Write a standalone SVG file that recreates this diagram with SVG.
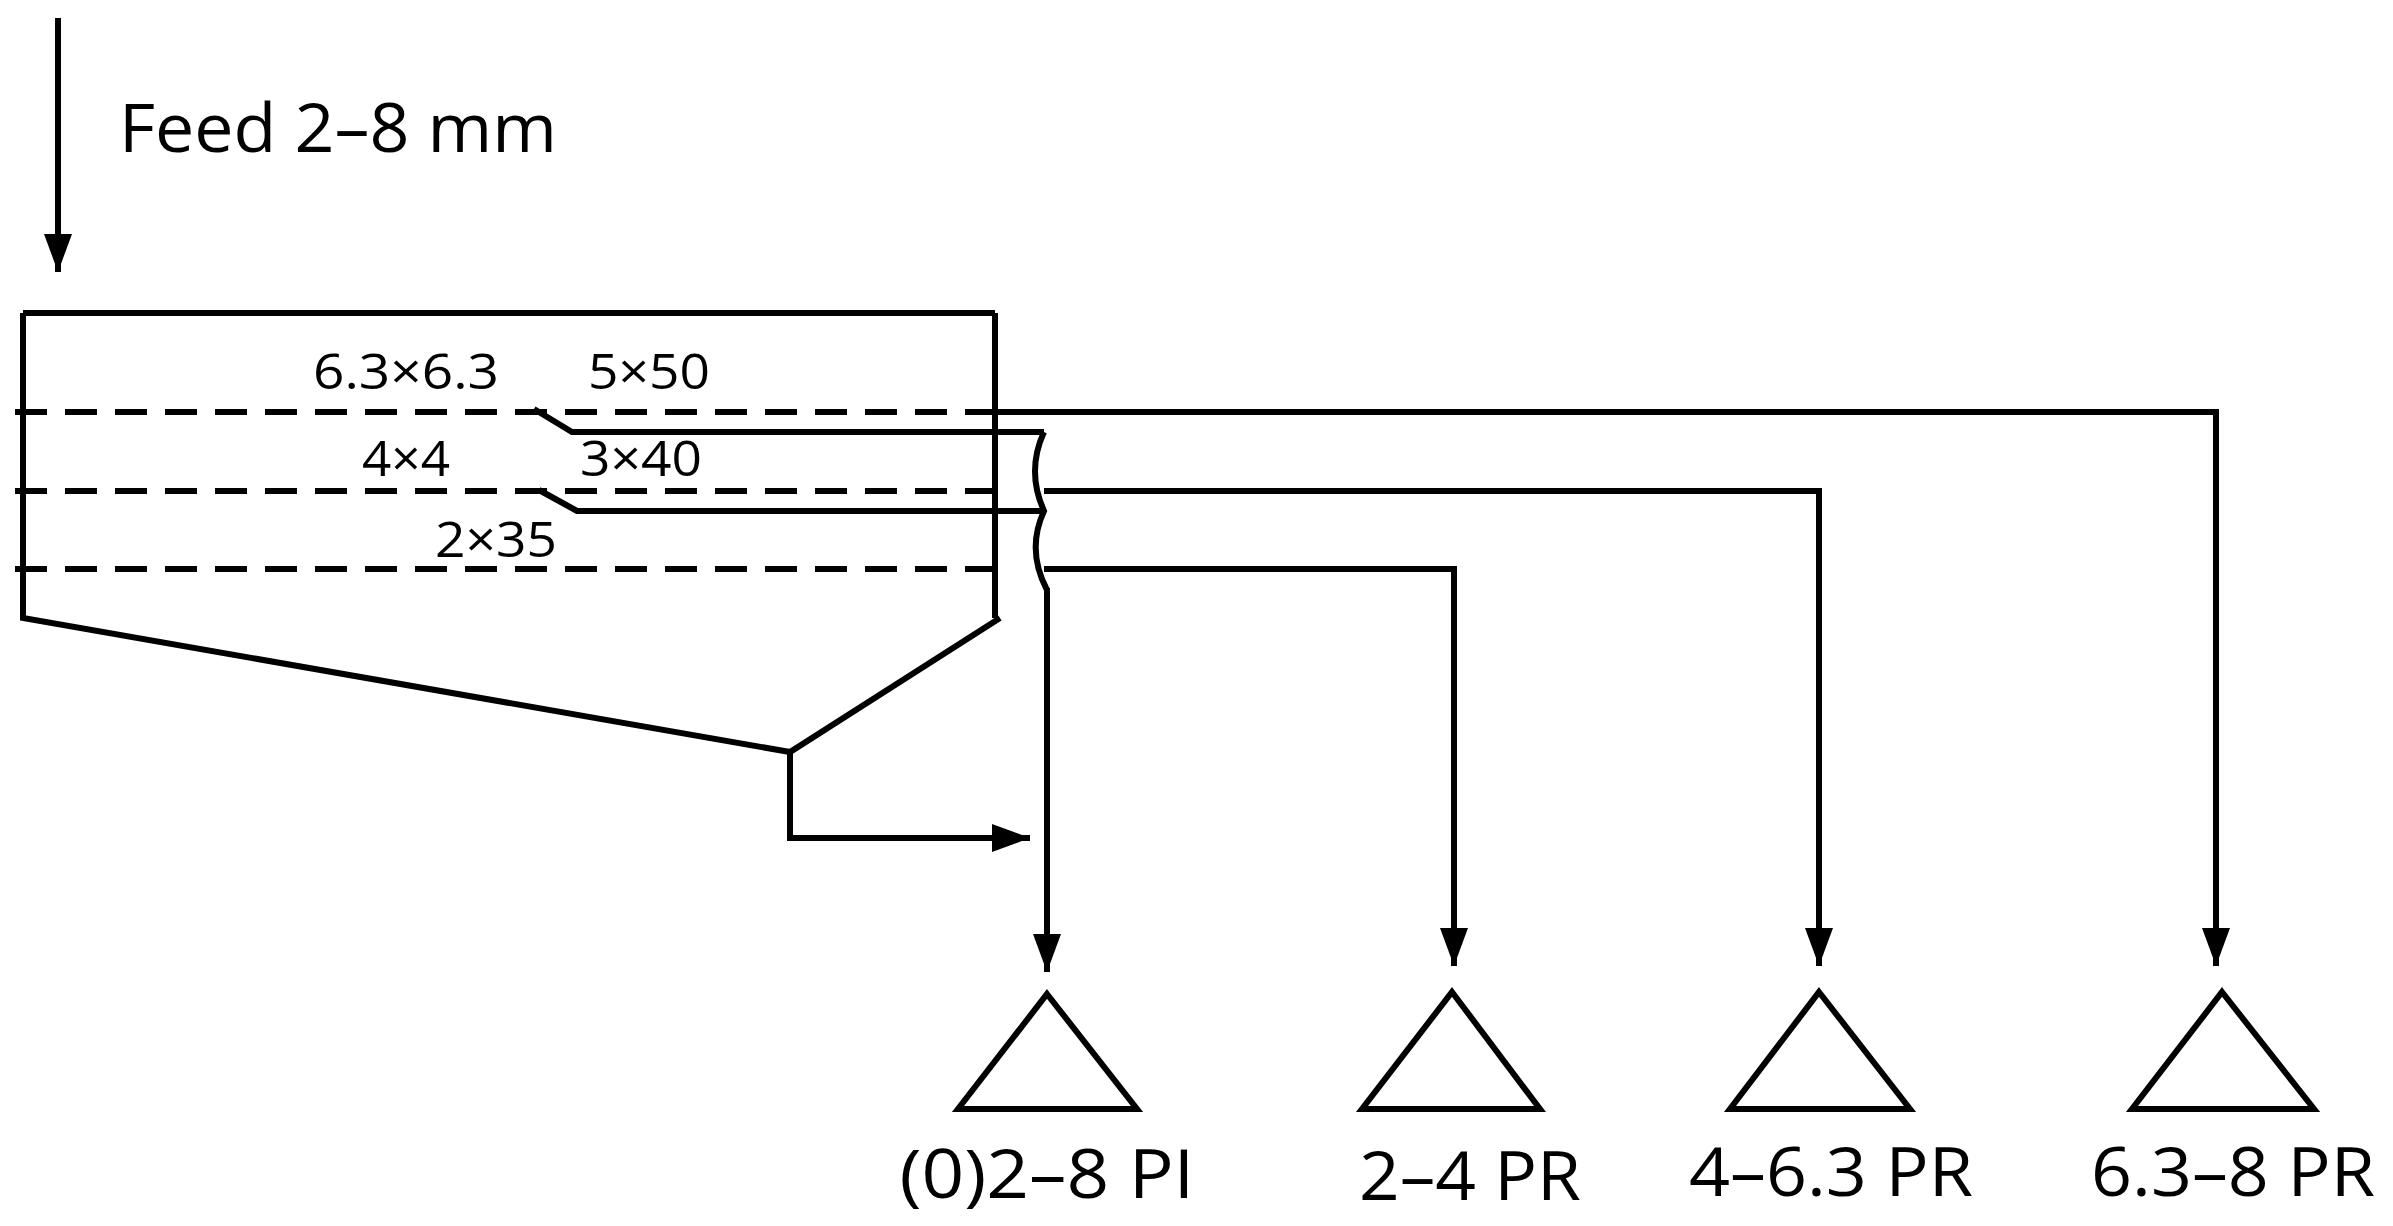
<svg xmlns="http://www.w3.org/2000/svg" width="2393" height="1226" viewBox="0 0 2393 1226">
<style>
.l{fill:none;stroke:#000;stroke-width:6}
.d{fill:none;stroke:#000;stroke-width:6;stroke-dasharray:32 18}
text{font-family:"Open Sans","Liberation Sans",sans-serif;fill:#000}
.s{font-size:50px}
.b{font-size:68px}
</style>
<defs>
<marker id="a" markerWidth="40" markerHeight="30" refX="38" refY="14" orient="auto" markerUnits="userSpaceOnUse"><path d="M0,0 L38,14 L0,28 Z" fill="#000"/></marker>
</defs>
<rect width="2393" height="1226" fill="#fff"/>
<g id="feed"><line class="l" x1="58" y1="18" x2="58" y2="272" marker-end="url(#a)"/><text class="b" x="119" y="152" textLength="438" lengthAdjust="spacingAndGlyphs">Feed 2–8 mm</text></g>
<g id="screen">
<path class="l" d="M23,313 H995 M23,313 V618 L790,752 L1000,618 M995,313 V618"/>
<line class="d" x1="15" y1="412" x2="995" y2="412"/>
<line class="d" x1="15" y1="491" x2="995" y2="491"/>
<line class="d" x1="15" y1="569" x2="995" y2="569"/>
<path class="l" d="M534,409 L572,432 H1044 M539,490 L577,511 H1044"/>
<path class="l" d="M1044,432 Q1026,471 1044,511 Q1026,550 1047,590"/>
<text class="s" x="313" y="389" textLength="186" lengthAdjust="spacingAndGlyphs">6.3×6.3</text>
<text class="s" x="588" y="389" textLength="122" lengthAdjust="spacingAndGlyphs">5×50</text>
<text class="s" x="362" y="476" textLength="88" lengthAdjust="spacingAndGlyphs">4×4</text>
<text class="s" x="580" y="476" textLength="122" lengthAdjust="spacingAndGlyphs">3×40</text>
<text class="s" x="435" y="557" textLength="122" lengthAdjust="spacingAndGlyphs">2×35</text>
</g>
<g id="connectors">
<path class="l" d="M995,412 H2216 V966" marker-end="url(#a)"/>
<path class="l" d="M1044,491 H1819 V966" marker-end="url(#a)"/>
<path class="l" d="M1044,569 H1454 V966" marker-end="url(#a)"/>
<path class="l" d="M1047,588 V972" marker-end="url(#a)"/>
<path class="l" d="M790,752 V838 H1030" marker-end="url(#a)"/>
</g>
<g id="p1"><path class="l" d="M1047,994 L1137,1109 H958 Z"/><text class="b" x="1047" y="1198" text-anchor="middle" textLength="295" lengthAdjust="spacingAndGlyphs">(0)2–8 PI</text></g>
<g id="p2"><path class="l" d="M1452,992 L1540,1109 H1362 Z"/><text class="b" x="1470" y="1200" text-anchor="middle" textLength="222" lengthAdjust="spacingAndGlyphs">2–4 PR</text></g>
<g id="p3"><path class="l" d="M1819,992 L1910,1109 H1730 Z"/><text class="b" x="1831" y="1196" text-anchor="middle" textLength="284" lengthAdjust="spacingAndGlyphs">4–6.3 PR</text></g>
<g id="p4"><path class="l" d="M2222,992 L2314,1109 H2132 Z"/><text class="b" x="2233" y="1196" text-anchor="middle" textLength="284" lengthAdjust="spacingAndGlyphs">6.3–8 PR</text></g>
</svg>
